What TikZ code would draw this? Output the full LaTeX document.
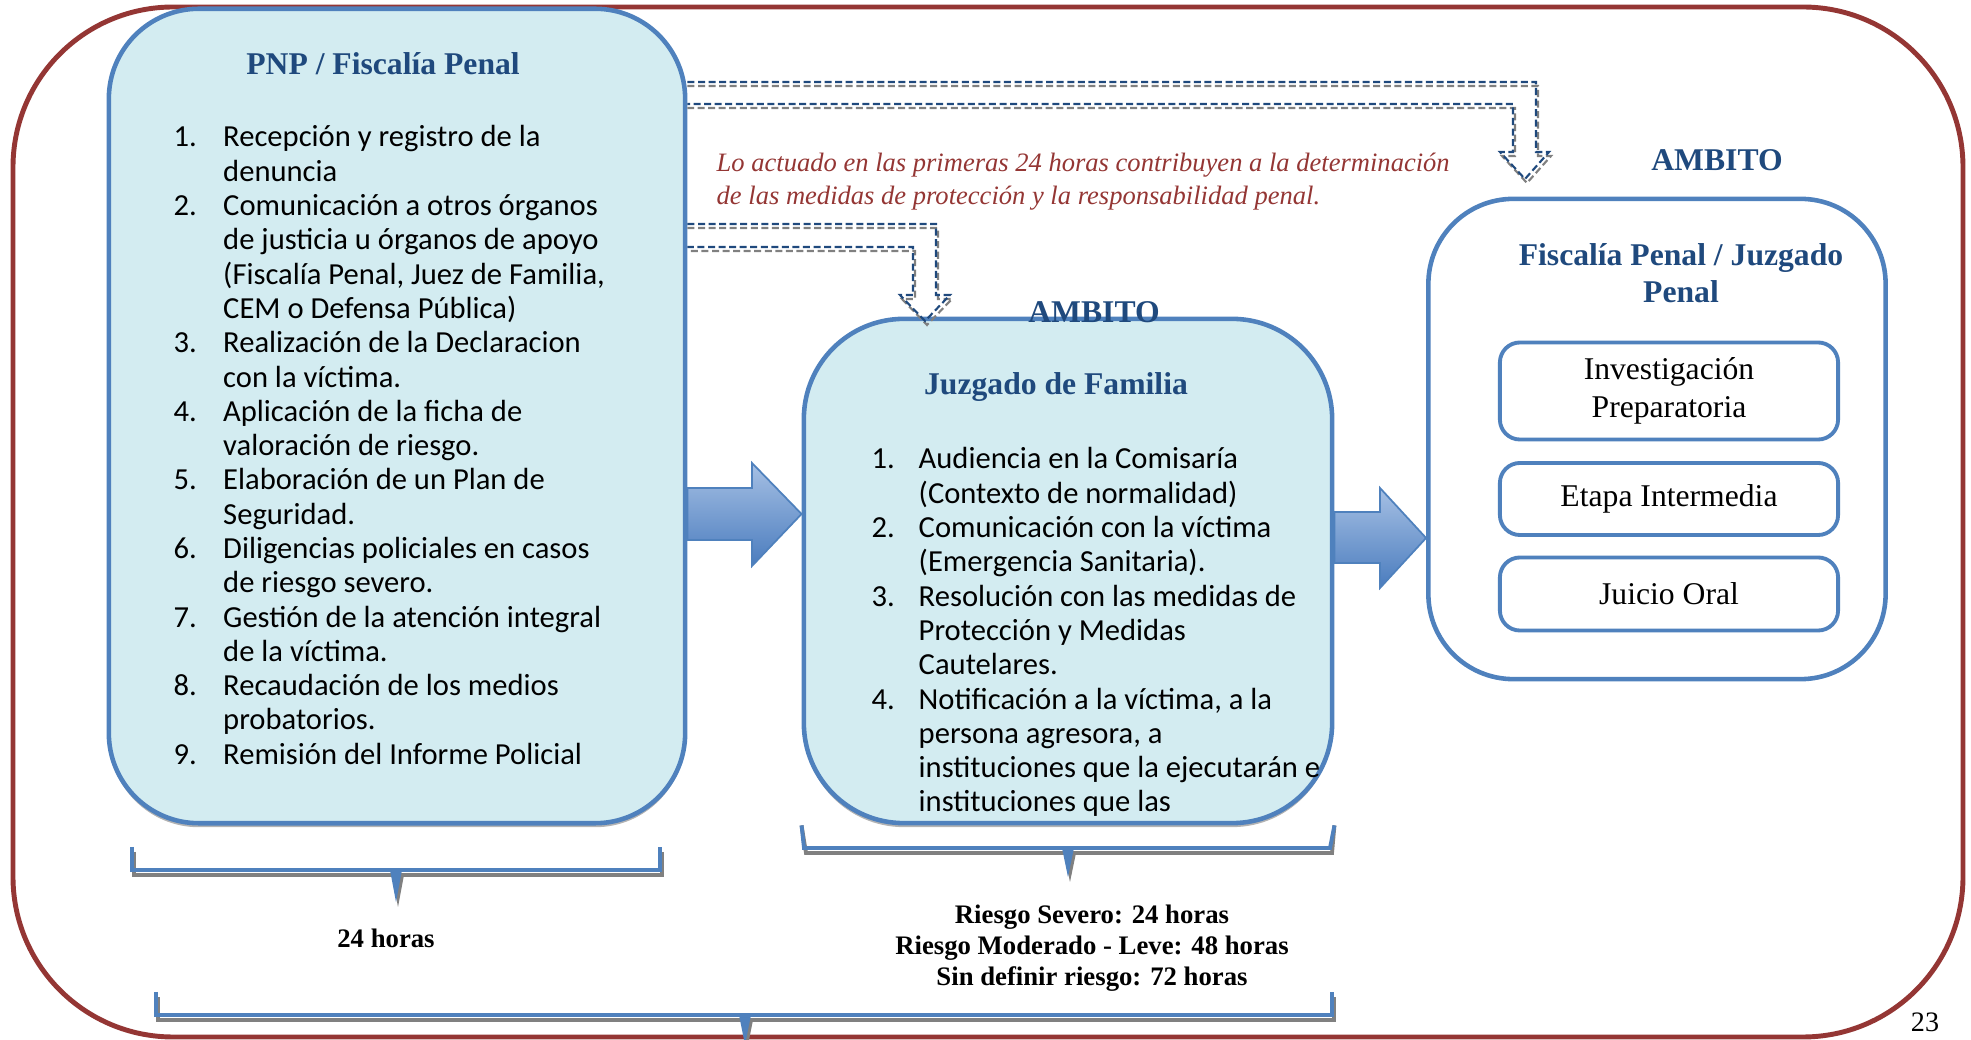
\documentclass[tikz,border=0pt]{standalone}
\usepackage{fontspec}
\setmainfont{Liberation Serif}
\newfontfamily\calibri{Carlito}
\usetikzlibrary{positioning,shadows}

\definecolor{marco}{HTML}{943634}
\definecolor{borde}{HTML}{4F81BD}
\definecolor{relleno}{HTML}{D3ECF1}
\definecolor{azul}{HTML}{1F497D}
\definecolor{gris}{HTML}{808080}
\definecolor{flechaclara}{HTML}{A6C0E4}
\definecolor{flechaoscura}{HTML}{4A7CBE}

\tikzset{
  caja/.style={draw=borde, line width=1.3pt, fill=relleno, rounded corners=0.9cm,
    drop shadow={shadow xshift=0cm, shadow yshift=-0.04cm, fill=gris, opacity=0.6}},
  cajablanca/.style={draw=borde, line width=1.3pt, fill=white, rounded corners=0.85cm},
  etapa/.style={draw=borde, line width=1.1pt, fill=white, rounded corners=0.2cm, minimum width=3.38cm,
    align=center, font=\fontsize{9}{10.8}\selectfont},
  titulo/.style={text=azul, inner sep=0pt, font=\bfseries\fontsize{9}{10.5}\selectfont},
  lista/.style={inner sep=0pt, font=\calibri\fontsize{8.7}{9.75}\selectfont},
  nota/.style={text=marco, inner sep=0pt, font=\itshape\fontsize{7.55}{9.35}\selectfont},
  plazo/.style={inner sep=0pt, font=\bfseries\fontsize{7.6}{8.75}\selectfont},
  guia/.style={dash pattern=on 2pt off 1pt, line width=0.6pt},
  flecha/.style={draw=borde, line width=0.5pt, top color=flechaclara, bottom color=flechaoscura},
  llave/.style={line width=1.1pt}
}

\begin{document}
\begin{tikzpicture}[x=0.01cm, y=-0.01cm]
\useasboundingbox (0,0) rectangle (1971,1040);
\draw[marco, line width=1.4pt, rounded corners=1.6cm] (13,7) rectangle (1963,1037);

\node[caja, minimum width=5.76cm, minimum height=8.14cm] (pnp) at (397,416) {};
\node[caja, minimum width=5.28cm, minimum height=5.04cm, rounded corners=1cm] (jf) at (1068,571) {};
\node[cajablanca, minimum width=4.57cm, minimum height=4.80cm] (fisc) at (1657,439) {};

\node[etapa, minimum height=0.97cm] (inv) at (1669,391) {Investigación\\Preparatoria};
\node[etapa, minimum height=0.72cm] (inter) at (1669,499) {Etapa Intermedia};
\node[etapa, minimum height=0.73cm] (juicio) at (1669,594) {Juicio Oral};

\node[titulo, anchor=base] (pnptit) at (383,75) {PNP / Fiscalía Penal};
\node[titulo, anchor=base] (jftit) at (1056,395) {Juzgado de Familia};
\node[titulo, anchor=base] (fisctit) at (1681,266) {\begin{tabular}[t]{@{}c@{}}Fiscalía Penal / Juzgado\\Penal\end{tabular}};
\node[titulo] (amb1) [above=-0.07cm of jf, xshift=0.26cm] {AMBITO};
\node[titulo] (amb2) [above=0.25cm of fisc, xshift=0.6cm] {AMBITO};

\node[lista, anchor=base west] (pnplista) at (173,147) {\begin{tabular}[t]{@{}p{0.495cm}@{}l@{}}
1. & Recepción y registro de la\\
   & denuncia\\
2. & Comunicación a otros órganos\\
   & de justicia u órganos de apoyo\\
   & (Fiscalía Penal, Juez de Familia,\\
   & CEM o Defensa Pública)\\
3. & Realización de la Declaracion\\
   & con la víctima.\\
4. & Aplicación de la ficha de\\
   & valoración de riesgo.\\
5. & Elaboración de un Plan de\\
   & Seguridad.\\
6. & Diligencias policiales en casos\\
   & de riesgo severo.\\
7. & Gestión de la atención integral\\
   & de la víctima.\\
8. & Recaudación de los medios\\
   & probatorios.\\
9. & Remisión del Informe Policial
\end{tabular}};

\node[lista, anchor=base west] (jflista) at (871,469) {\begin{tabular}[t]{@{}p{0.47cm}@{}l@{}}
1. & Audiencia en la Comisaría\\
   & (Contexto de normalidad)\\
2. & Comunicación con la víctima\\
   & (Emergencia Sanitaria).\\
3. & Resolución con las medidas de\\
   & Protección y Medidas\\
   & Cautelares.\\
4. & Notificación a la víctima, a la\\
   & persona agresora, a\\
   & instituciones que la ejecutarán e\\
   & instituciones que las
\end{tabular}};

\node[nota, anchor=base west] (nota) at (716,172) {\begin{tabular}[t]{@{}l@{}}Lo actuado en las primeras 24 horas contribuyen a la determinación\\de las medidas de protección y la responsabilidad penal.\end{tabular}};

\foreach \c/\dx/\dy in {gris/0.02/-0.04, azul/0/0} {
  \draw[guia, \c, xshift=\dx cm, yshift=\dy cm] (pnp.east |- 0,82) -- (1536,82) -- (1536,152) -- (1549,152) -- (1525,179)
    -- (1500,152) -- (1513,152) -- (1513,104) -- (pnp.east |- 0,104);
  \draw[guia, \c, xshift=\dx cm, yshift=\dy cm] (pnp.east |- 0,224) -- (936,224) -- (936,295) -- (950,295) -- (925,321)
    -- (900,295) -- (913,295) -- (913,247) -- (pnp.east |- 0,247);
}

\path[flecha] (pnp.east |- 0,488) -- (752,488) -- (752,463) -- (jf.west |- 0,514) -- (752,566) -- (752,540) -- (pnp.east |- 0,540) -- cycle;
\path[flecha] (jf.east |- 0,512) -- (1380,512) -- (1380,488) -- (fisc.west |- 0,538) -- (1380,588) -- (1380,563) -- (jf.east |- 0,563) -- cycle;

\foreach \c/\dx/\dy in {gris/0.02/-0.05, borde/0/0} {
  \draw[llave, \c, xshift=\dx cm, yshift=\dy cm] (132,847) -- (132,870) -- (660,870) -- (660,847);
  \fill[\c, xshift=\dx cm, yshift=\dy cm] (390,870) -- (396,902) -- (402,870) -- cycle;
  \draw[llave, \c, xshift=\dx cm, yshift=\dy cm] (jf.south west) -- (804,848) -- (1330,848) -- (jf.south east);
  \fill[\c, xshift=\dx cm, yshift=\dy cm] (1062,848) -- (1068,877) -- (1074,848) -- cycle;
  \draw[llave, \c, xshift=\dx cm, yshift=\dy cm] (156,992) -- (156,1015) -- (1332,1015) -- (1332,992);
  \fill[\c, xshift=\dx cm, yshift=\dy cm] (739,1015) -- (745,1045) -- (751,1015) -- cycle;
}

\node[plazo, anchor=base] (plazo1) at (386,948) {24 horas};
\node[plazo, anchor=base] (plazo2) at (1092,924) {\begin{tabular}[t]{@{}c@{}}Riesgo Severo: 24 horas\\Riesgo Moderado - Leve: 48 horas\\Sin definir riesgo: 72 horas\end{tabular}};

\node[anchor=north, inner sep=0pt, font=\fontsize{8}{9}\selectfont] (pagina) at (1925,1012) {23};
\end{tikzpicture}
\end{document}
